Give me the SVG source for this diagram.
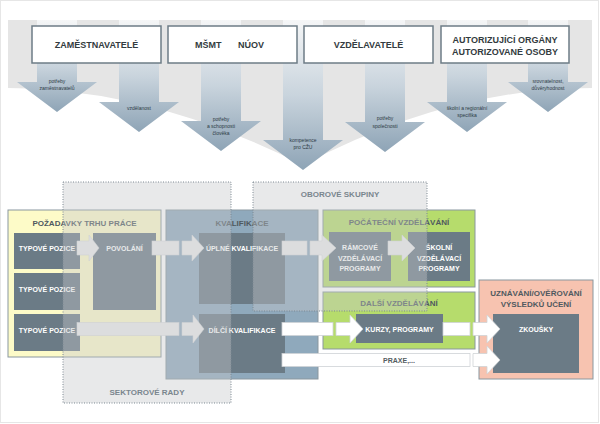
<svg xmlns="http://www.w3.org/2000/svg" width="600" height="424" viewBox="0 0 600 424">
<defs>
<linearGradient id="ag" x1="0" y1="0" x2="0" y2="1">
<stop offset="0" stop-color="#f5f6f7"/>
<stop offset="0.5" stop-color="#c9d4dd"/>
<stop offset="1" stop-color="#8ea4b6"/>
</linearGradient>
<style>
.tb{fill:#fff;stroke:#6d7c86;stroke-width:1.5}
.tt{font-family:"Liberation Sans",Arial,sans-serif;font-weight:bold;font-size:9px;fill:#333b40;text-anchor:middle}
.sl{font-family:"Liberation Sans",Arial,sans-serif;font-size:5px;fill:#2c3a44;text-anchor:middle}
.ar{fill:url(#ag)}
.ow{fill:none;stroke:#fff;stroke-width:4}
.ob{stroke:#8a979f;stroke-width:1}
.inn{fill:#6b7b86}
.hd{font-family:"Liberation Sans",Arial,sans-serif;font-weight:bold;font-size:8px;fill:#4f595f;text-anchor:middle}
.wl{font-family:"Liberation Sans",Arial,sans-serif;font-weight:bold;font-size:7px;fill:#fff;text-anchor:middle}
.dl{font-family:"Liberation Sans",Arial,sans-serif;font-weight:bold;font-size:8px;fill:#7a868e;text-anchor:middle}
.ov{fill:#c6c8ca;fill-opacity:0.4;stroke:#7c8992;stroke-width:1;stroke-dasharray:1 1.5}
.wa{fill:#fff;stroke:#cfd3d6;stroke-width:0.8}
.ga{fill:#ececec;stroke:#d6d8da;stroke-width:0.6}
</style>
</defs>
<rect x="0.5" y="0.5" width="598" height="422" fill="#fff" stroke="#e6e6e6"/>
<path d="M8 20 H592 V88 Q450 88 303 165 Q150 88 8 88 Z" fill="#e5e5e5"/>

<g id="flows">
<path class="ar" d="M37 20 H77 V82 H97 L57 112 L17 82 H37 Z"/>
<path class="ar" d="M119 20 H159 V102 H179 L139 132 L99 102 H119 Z"/>
<path class="ar" d="M201 20 H241 V121 H261 L221 151 L181 121 H201 Z"/>
<path class="ar" d="M283 20 H323 V140 H343 L303 170 L263 140 H283 Z"/>
<path class="ar" d="M365 20 H405 V122 H425 L385 152 L345 122 H365 Z"/>
<path class="ar" d="M447 20 H487 V102 H507 L467 132 L427 102 H447 Z"/>
<path class="ar" d="M528 20 H568 V82 H588 L548 112 L508 82 H528 Z"/>
<text class="sl"><tspan x="57" y="83">potřeby</tspan><tspan x="57" y="90">zaměstnavatelů</tspan></text>
<text class="sl" x="139" y="110">vzdělanost</text>
<text class="sl"><tspan x="221" y="121">potřeby</tspan><tspan x="221" y="128">a schopnosti</tspan><tspan x="221" y="135">člověka</tspan></text>
<text class="sl"><tspan x="303" y="142">kompetence</tspan><tspan x="303" y="148.5">pro CŽU</tspan></text>
<text class="sl"><tspan x="385" y="120">potřeby</tspan><tspan x="385" y="127.5">společnosti</tspan></text>
<text class="sl"><tspan x="467" y="110">školní a regionální</tspan><tspan x="467" y="117">specifika</tspan></text>
<text class="sl"><tspan x="548" y="83">srovnatelnost,</tspan><tspan x="548" y="90">důvěryhodnost</tspan></text>
</g>

<g id="zamestnavatele"><rect class="tb" x="32" y="26" width="129" height="37"/><text class="tt" x="96.5" y="47.5">ZAMĚSTNAVATELÉ</text></g>
<g id="msmt-nuov"><rect class="tb" x="168" y="26" width="129" height="37"/><text class="tt" y="47.5"><tspan x="209.5">MŠMT</tspan> <tspan x="251">NÚOV</tspan></text></g>
<g id="vzdelavatele"><rect class="tb" x="304" y="26" width="129" height="37"/><text class="tt" x="368.5" y="47.5">VZDĚLAVATELÉ</text></g>
<g id="autorizujici"><rect class="tb" x="441" y="26" width="128" height="37"/><text class="tt"><tspan x="505" y="43">AUTORIZUJÍCÍ ORGÁNY</tspan><tspan x="505" y="55">AUTORIZOVANÉ OSOBY</tspan></text></g>

<g id="pozadavky"><rect class="ow" x="8" y="210" width="153" height="147"/><rect class="ob" fill="#fdfbc8" x="8" y="210" width="153" height="147"/><text class="hd" x="84.5" y="226">POŽADAVKY TRHU PRÁCE</text></g>
<g id="kvalifikace"><rect class="ow" x="166" y="210" width="152" height="169"/><rect class="ob" fill="#8fa9bc" x="166" y="210" width="152" height="169"/><text class="hd" x="242" y="226">KVALIFIKACE</text></g>
<g id="pocatecni"><rect class="ow" x="323" y="210" width="152" height="77"/><rect class="ob" fill="#b6dc6c" x="323" y="210" width="152" height="77"/><text class="hd" x="399" y="225">POČÁTEČNÍ VZDĚLÁVÁNÍ</text></g>
<g id="dalsi"><rect class="ow" x="323" y="292" width="152" height="57"/><rect class="ob" fill="#b6dc6c" x="323" y="292" width="152" height="57"/><text class="hd" x="399" y="306">DALŠÍ VZDĚLÁVÁNÍ</text></g>
<g id="uznavani"><rect class="ow" x="479" y="280" width="114" height="99"/><rect class="ob" fill="#f7c3b0" x="479" y="280" width="114" height="99"/><text class="hd"><tspan x="536" y="296">UZNÁVÁNÍ/OVĚŘOVÁNÍ</tspan><tspan x="536" y="307">VÝSLEDKŮ UČENÍ</tspan></text></g>

<g id="typove1"><rect class="inn" x="14" y="233" width="66" height="36"/><text class="wl" x="47" y="250.5">TYPOVÉ POZICE</text></g>
<g id="typove2"><rect class="inn" x="14" y="273" width="66" height="37"/><text class="wl" x="47" y="291.5">TYPOVÉ POZICE</text></g>
<g id="typove3"><rect class="inn" x="14" y="314" width="66" height="37"/><text class="wl" x="47" y="332.5">TYPOVÉ POZICE</text></g>
<g id="povolani"><rect class="inn" x="93" y="233" width="63" height="77"/><text class="wl" x="124.5" y="250.5">POVOLÁNÍ</text></g>
<g id="uplne"><rect class="inn" x="199" y="233" width="86" height="71"/><text class="wl" x="242" y="250.5">ÚPLNÉ KVALIFIKACE</text></g>
<g id="dilci"><rect class="inn" x="199" y="314" width="86" height="59"/><text class="wl" x="242" y="332.5">DÍLČÍ KVALIFIKACE</text></g>
<g id="ramcove"><rect class="inn" x="329" y="232" width="62" height="49"/><text class="wl"><tspan x="360" y="250">RÁMCOVÉ</tspan><tspan x="360" y="260.5">VZDĚLÁVACÍ</tspan><tspan x="360" y="271">PROGRAMY</tspan></text></g>
<g id="skolni"><rect class="inn" x="408" y="232" width="62" height="49"/><text class="wl"><tspan x="439" y="250">ŠKOLNÍ</tspan><tspan x="439" y="260.5">VZDĚLÁVACÍ</tspan><tspan x="439" y="271">PROGRAMY</tspan></text></g>
<g id="kurzy"><rect class="inn" x="356" y="314" width="87" height="29"/><text class="wl" x="399.5" y="332">KURZY, PROGRAMY</text></g>
<g id="zkousky"><rect class="inn" x="493" y="314" width="86" height="59"/><text class="wl" x="536" y="332">ZKOUŠKY</text></g>

<g id="connectors">
<path class="ga" d="M77 241 H89 V235 L99 248 L89 261 V255 H77 Z"/>
<rect class="ga" x="152" y="241" width="27" height="14"/>
<path class="ga" d="M182 241 H192 V235 L204 248 L192 261 V255 H182 Z"/>
<rect class="ga" x="282" y="241" width="25" height="14"/>
<path class="ga" d="M310 241 H322 V235 L336 248 L322 261 V255 H310 Z"/>
<path class="ga" d="M388 241 H402 V235 L415 248 L402 261 V255 H388 Z"/>
<rect class="ga" x="77" y="322.5" width="102" height="13"/>
<path class="ga" d="M182 322.5 H193 V315 L204 329 L193 343 V335.5 H182 Z"/>
<rect class="wa" x="282" y="322.5" width="51" height="13"/>
<path class="wa" d="M336 322.5 H350 V315 L363 329 L350 343 V335.5 H336 Z"/>
<rect class="wa" x="443" y="322.5" width="27" height="13"/>
<path class="wa" d="M473 322.5 H487 V315 L500 329 L487 343 V335.5 H473 Z"/>
<rect class="wa" x="282" y="353.5" width="188" height="13"/>
<path class="wa" d="M473 353.5 H487 V346 L500 360 L487 374 V366.5 H473 Z"/>
<text x="399" y="363" style="font-family:'Liberation Sans',Arial,sans-serif;font-weight:bold;font-size:7px;fill:#555d62;text-anchor:middle">PRAXE,...</text>
</g>

<g id="sektorove-rady"><rect class="ov" x="63" y="182" width="168" height="221"/><text class="dl" x="147" y="395">SEKTOROVÉ RADY</text></g>
<g id="oborove-skupiny"><rect class="ov" x="253" y="182" width="174" height="129"/><text class="dl" x="340" y="197">OBOROVÉ SKUPINY</text></g>
</svg>
